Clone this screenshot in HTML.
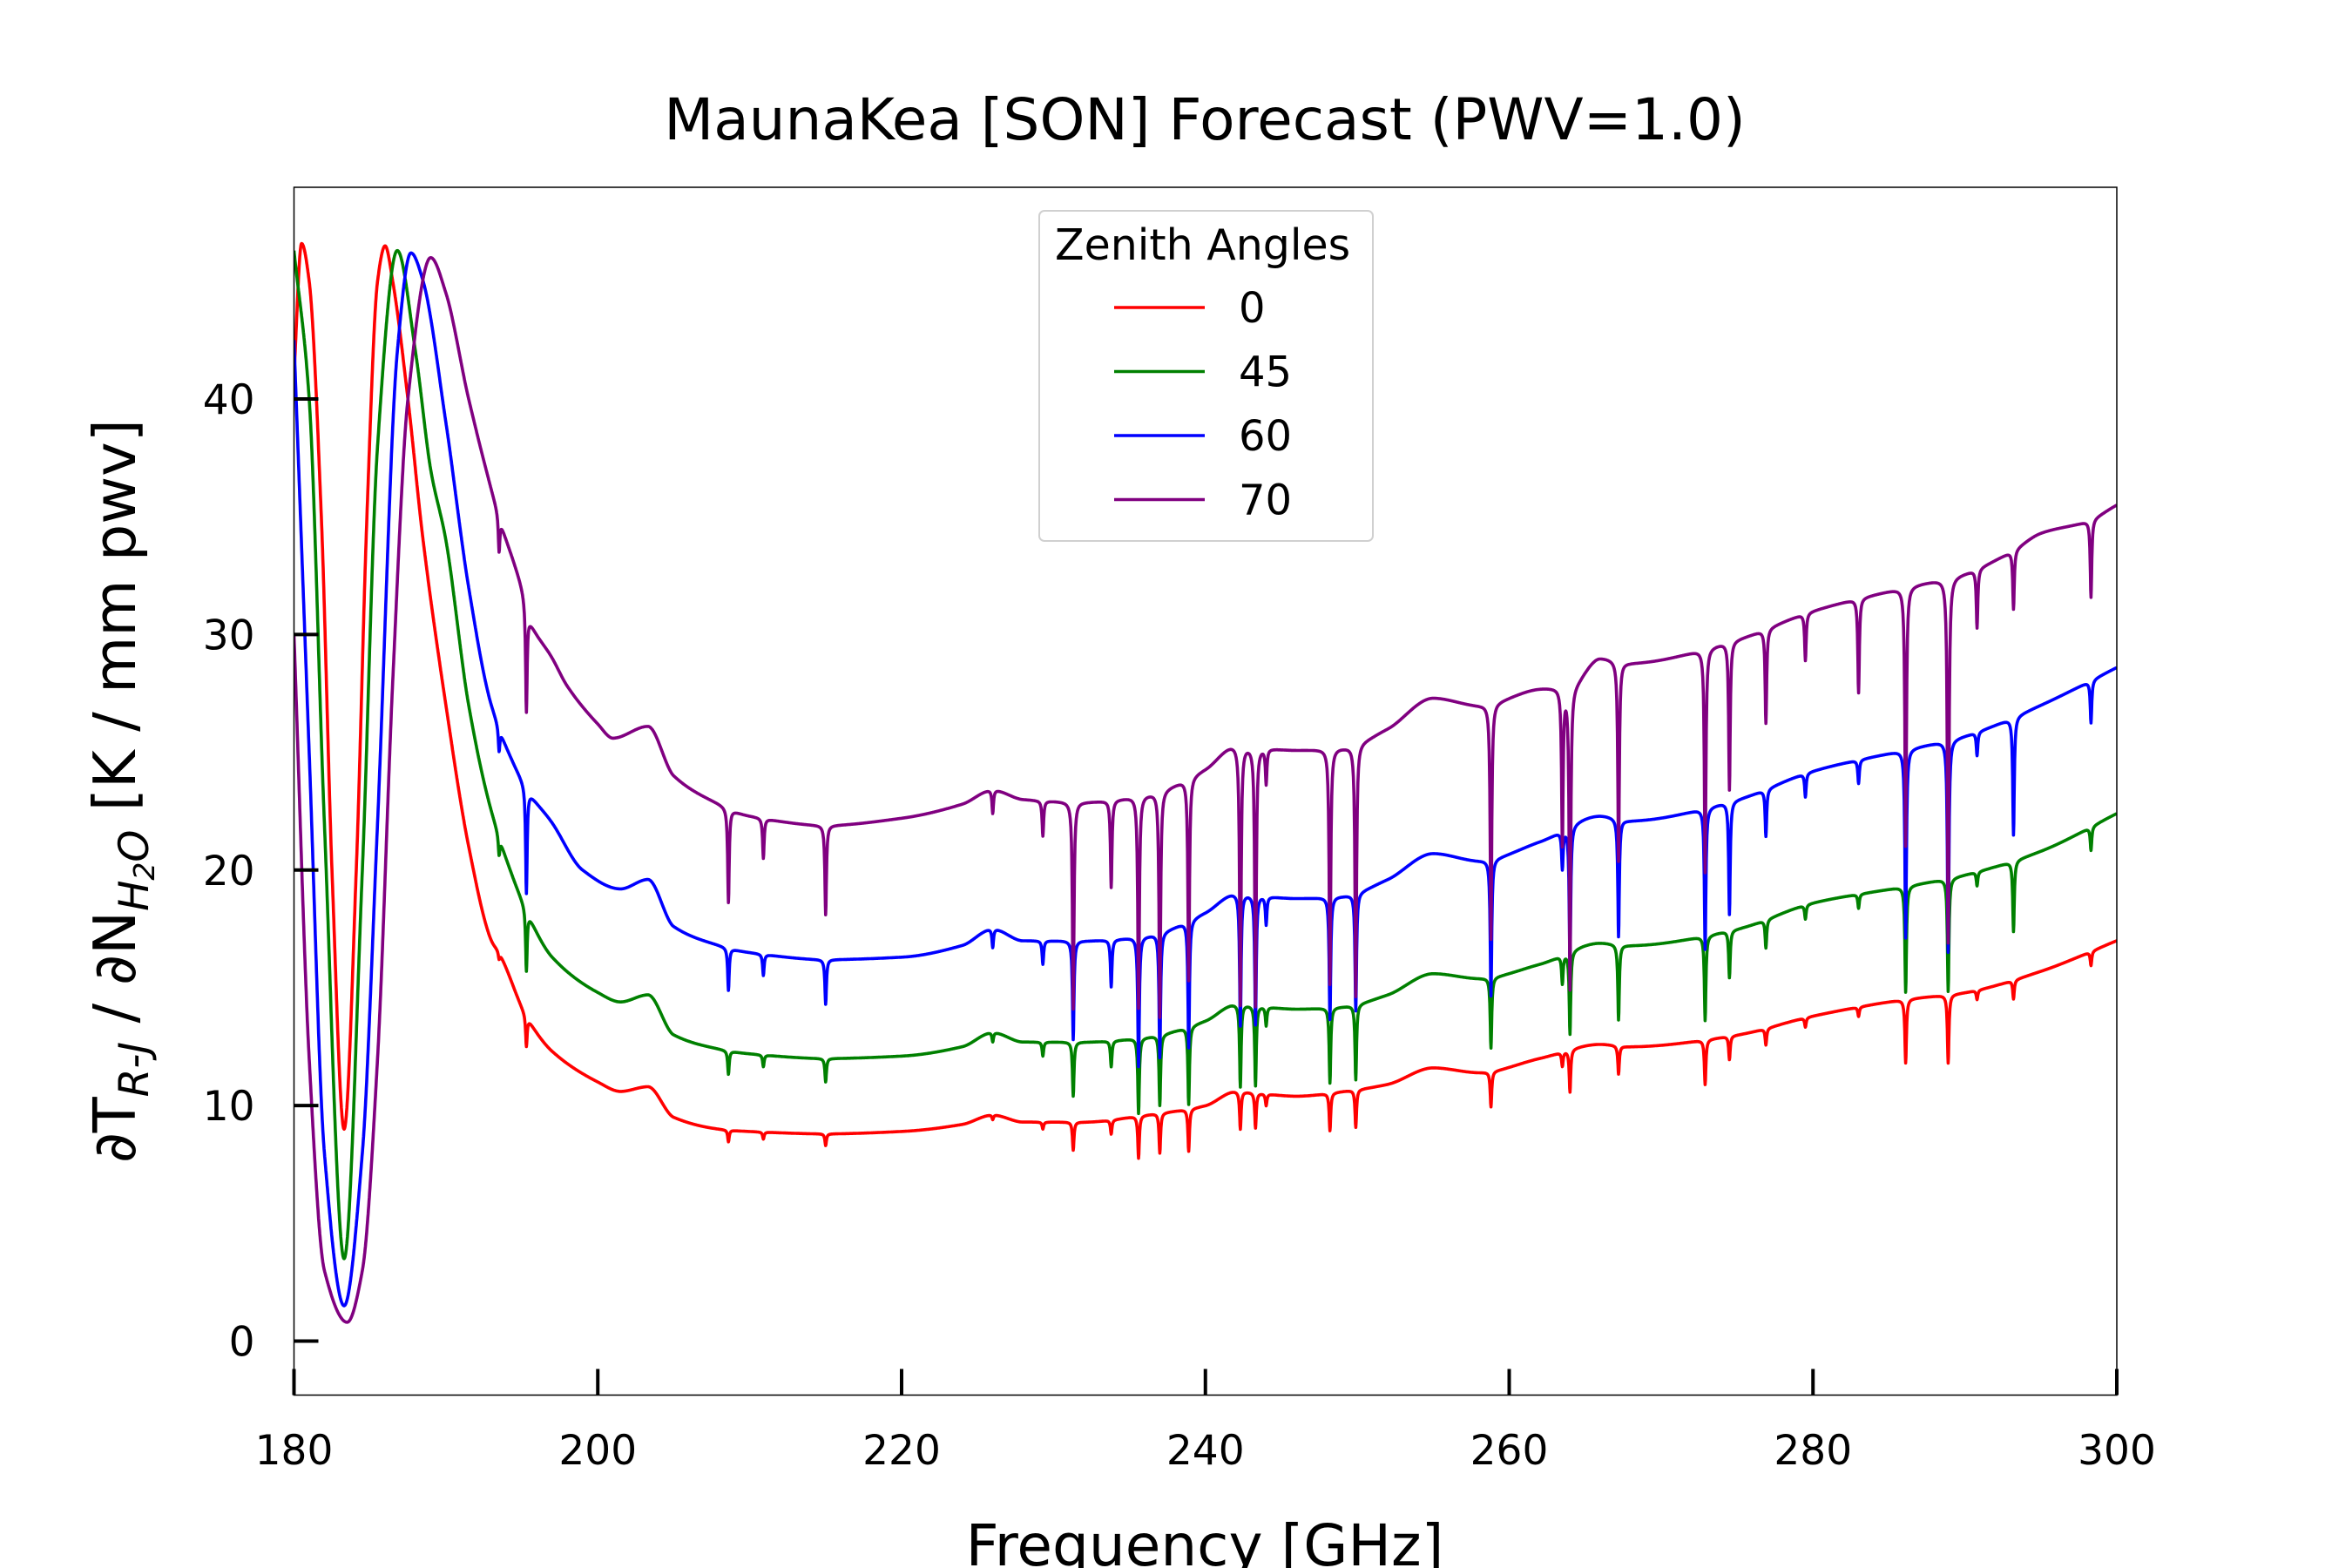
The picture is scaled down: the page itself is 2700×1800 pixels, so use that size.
<!DOCTYPE html>
<html><head><meta charset="utf-8"><style>
html,body{margin:0;padding:0;background:#fff}
svg{display:block;font-family:"DejaVu Sans","Liberation Sans",sans-serif}
</style></head><body>
<svg id="chart" width="2700" height="1800" viewBox="0 0 2700 1800" xmlns="http://www.w3.org/2000/svg">
<rect width="2700" height="1800" fill="#fff"/>
<text x="1383" y="160" font-size="66" text-anchor="middle">MaunaKea [SON] Forecast (PWV=1.0)</text>
<g id="plot"></g>
<rect x="337.5" y="215" width="2092.5" height="1386.5" fill="none" stroke="#000" stroke-width="1.5"/>
<g id="ticks"></g>
<text transform="translate(155,908) rotate(-90)" font-size="67" text-anchor="middle">∂T<tspan font-size="47" font-style="italic" dy="15">R-J</tspan><tspan dy="-15"> / ∂N</tspan><tspan font-size="47" font-style="italic" dy="15">H</tspan><tspan font-size="33" font-style="italic" dy="7">2</tspan><tspan font-size="47" font-style="italic" dy="-7">O</tspan><tspan dy="-15"> [K / mm pwv]</tspan></text>
<text x="1383" y="1797" font-size="66" text-anchor="middle">Frequency [GHz]</text>
<g>
<rect x="1193" y="242" width="383" height="379" rx="6" fill="#fff" stroke="#d0d0d0" stroke-width="2"/>
<text x="1211" y="298" font-size="49">Zenith Angles</text>
<g id="legend-items"></g>
</g>
</svg>
<script>
const categories = ["0","45","60","70"];
const colors = ["#ff0000","#008000","#0000ff","#800080"];
const baseF = [
 [180,180.5,181,181.8,182.5,183.3,184.1,184.8,185.5,186,186.5,187.5,188.5,190,191.5,193,193.5,195.3,197,200,201.5,203.3,205,208,210,215,220,224,226,228,232,236,240,242,246,249,252,255,258,262,266,268,275,280,286,290,295,300],
 [180,181,182,183.3,184.5,185.5,186.8,188,189,190,191.5,193,195.3,197,200,201.5,203.3,205,208,210,215,220,224,226,228,232,236,240,242,246,249,252,255,258,262,266,268,275,280,286,290,295,300],
 [180,181,182,183.3,184.5,185.5,186.8,187.7,188.5,190,191.5,193,195.3,197,199,201.5,203.3,205,208,210,215,220,224,226,228,232,236,240,242,246,249,252,255,258,262,266,268,275,280,286,290,295,300],
 [180,181,182,183.5,184.5,185.5,186.5,187.5,189,190,191.5,193.5,195,195.6,197,198,200,201,203.3,205,208,210,215,220,224,226,228,232,236,240,242,246,249,252,255,258,262,264,266,268,275,280,286,290,293,295,298,300]
];
const baseV = [
 [41,46.6,45,35,20,9,20,35,45,46.5,45,40,34,27,21,17,16.5,13.8,12.3,11,10.6,10.8,9.5,9.0,8.9,8.8,8.9,9.2,9.6,9.3,9.3,9.6,10.0,10.6,10.4,10.6,10.9,11.6,11.4,12,12.6,12.5,13,13.8,14.5,14.8,15.7,17],
 [46.3,40,22,3.5,20,38,46.3,42,37,34,27,22.5,18.3,16.3,14.8,14.4,14.7,13,12.4,12.2,12.0,12.1,12.5,13.1,12.7,12.7,12.9,13.6,14.3,14.1,14.2,14.7,15.6,15.4,16,16.9,16.8,17.5,18.6,19.3,19.8,20.8,22.4],
 [42.5,25,8,1.5,8,22,42,46.2,45,39,32,27,23.5,22,20,19.2,19.6,17.6,16.8,16.5,16.2,16.3,16.8,17.5,17.0,17,17.2,18.2,19,18.8,18.9,19.6,20.7,20.4,21.2,22.3,22.1,23,24.2,25.1,25.7,27,28.6],
 [30,12,3,0.8,3,12,28,40,46,44.5,40,35,32,30.5,29,27.8,26.2,25.6,26.1,24,22.8,22.3,21.9,22.2,22.8,23.4,23,22.9,23.2,24.3,25.3,25.1,25.2,26.0,27.3,27,27.7,27.8,29,28.8,29.8,31,32,32.6,33.5,34.3,34.8,35.5]
];
const dipF = [193.5,195.3,208.6,210.9,215,226,229.3,231.3,233.8,235.6,237,238.9,242.3,243.3,244,248.2,249.9,258.8,263.5,264,267.2,272.9,274.5,276.9,279.5,283,286.1,288.9,290.8,293.2,298.3];
const dipDepth = [
 [0.3,1.3,0.5,0.3,0.5,0.2,0.3,1.2,0.6,1.8,1.7,1.8,1.6,1.5,0.5,1.6,1.6,1.5,0.6,1.8,1.2,1.9,1.0,0.7,0.4,0.4,2.7,2.9,0.4,0.8,0.6],
 [0.8,2.6,1.0,0.5,1.0,0.4,0.6,2.3,1.1,3.2,3.0,3.3,3.5,3.4,0.8,3.2,3.2,3.0,1.2,3.5,3.2,3.6,2.0,1.2,0.6,0.6,4.5,4.8,0.6,3.0,1.0],
 [1.0,4.5,1.8,0.9,1.9,0.8,1.0,4.2,2.0,5.5,5.3,5.4,5.6,5.5,1.2,5.2,5.0,5.8,1.6,6.0,5.0,6.0,4.8,2.0,1.0,1.0,8.0,9.0,1.0,5.0,1.8],
 [1.5,4.5,4.0,1.7,3.8,1.0,1.5,8.8,3.7,9.0,9.6,8.6,11,11,1.5,10,10.7,10,6.6,12.8,8.5,9.5,6.3,4,2,4,11,15.5,2.5,2.5,3.3]
];
const yTicks = [0,10,20,30,40];
const xTicks = [180,200,220,240,260,280,300];

const X0=337.5,X1=2430,Y0=1601.5,Y1=215, FMIN=180,FMAX=300;
const YZ=1539.5, Y40=458;
function xs(f){return X0+(f-FMIN)/(FMAX-FMIN)*(X1-X0);}
function ys(v){return YZ-v*(YZ-Y40)/40;}
function monoTangents(F,V){
  const n=F.length,d=[],m=new Array(n);
  for(let i=0;i<n-1;i++)d.push((V[i+1]-V[i])/(F[i+1]-F[i]));
  m[0]=d[0];m[n-1]=d[n-2];
  for(let i=1;i<n-1;i++){ if(d[i-1]*d[i]<=0)m[i]=0; else m[i]=2/(1/d[i-1]+1/d[i]); }
  return m;
}
function interp(F,V,M,f){
  if(f<=F[0])return V[0];
  for(let i=1;i<F.length;i++){ if(f<=F[i]){
    const h=F[i]-F[i-1],t=(f-F[i-1])/h,t2=t*t,t3=t2*t;
    return (2*t3-3*t2+1)*V[i-1]+(t3-2*t2+t)*h*M[i-1]+(-2*t3+3*t2)*V[i]+(t3-t2)*h*M[i];
  } }
  return V[V.length-1];
}
const NS="http://www.w3.org/2000/svg";
const plot=document.getElementById('plot');
const clip=document.createElementNS(NS,'clipPath');clip.setAttribute('id','clipPlot');
const cr=document.createElementNS(NS,'rect');cr.setAttribute('x',X0);cr.setAttribute('y',Y1);cr.setAttribute('width',X1-X0);cr.setAttribute('height',Y0-Y1);
clip.appendChild(cr);plot.appendChild(clip);
const g=0.06;
for(let s=0;s<categories.length;s++){
  const M=monoTangents(baseF[s],baseV[s]);
  const pts=[];
  for(let k=0;k<=6000;k++){
    const f=FMIN+k*0.02;
    let v=interp(baseF[s],baseV[s],M,f);
    for(let d=0;d<dipF.length;d++){const df=f-dipF[d];v-=dipDepth[s][d]*g*g/(df*df+g*g);}
    pts.push(xs(f).toFixed(1)+','+ys(v).toFixed(1));
  }
  const pl=document.createElementNS(NS,'polyline');
  
  
  pl.setAttribute('points',pts.join(' '));
  pl.setAttribute('fill','none');pl.setAttribute('stroke',colors[s]);pl.setAttribute('stroke-width','3.6');
  pl.setAttribute('stroke-linejoin','round');pl.setAttribute('clip-path','url(#clipPlot)');
  plot.appendChild(pl);
}
const tk=document.getElementById('ticks');
yTicks.forEach(v=>{
  const l=document.createElementNS(NS,'line');
  
  
  l.setAttribute('x1',X0);l.setAttribute('x2',X0+28);l.setAttribute('y1',ys(v));l.setAttribute('y2',ys(v));
  l.setAttribute('stroke','#000');l.setAttribute('stroke-width','4');tk.appendChild(l);
  const t=document.createElementNS(NS,'text');
  
  
  t.setAttribute('x',X0-45);t.setAttribute('y',ys(v)+17);t.setAttribute('font-size','47');t.setAttribute('text-anchor','end');
  t.textContent=v;tk.appendChild(t);
});
xTicks.forEach(v=>{
  const l=document.createElementNS(NS,'line');
  
  
  l.setAttribute('x1',xs(v));l.setAttribute('x2',xs(v));l.setAttribute('y1',Y0);l.setAttribute('y2',Y0-30);
  l.setAttribute('stroke','#000');l.setAttribute('stroke-width','4');tk.appendChild(l);
  const t=document.createElementNS(NS,'text');
  
  
  t.setAttribute('x',xs(v));t.setAttribute('y',1681);t.setAttribute('font-size','47');t.setAttribute('text-anchor','middle');
  t.textContent=v;tk.appendChild(t);
});
const li=document.getElementById('legend-items');
categories.forEach((c,i)=>{
  const y=353+i*73.5;
  const l=document.createElementNS(NS,'line');
  
  
  l.setAttribute('x1',1279);l.setAttribute('x2',1383);l.setAttribute('y1',y);l.setAttribute('y2',y);
  l.setAttribute('stroke',colors[i]);l.setAttribute('stroke-width','3.5');li.appendChild(l);
  const t=document.createElementNS(NS,'text');
  
  
  t.setAttribute('x',1422);t.setAttribute('y',y+17);t.setAttribute('font-size','48');
  t.textContent=c;li.appendChild(t);
});
</script>
</body></html>
